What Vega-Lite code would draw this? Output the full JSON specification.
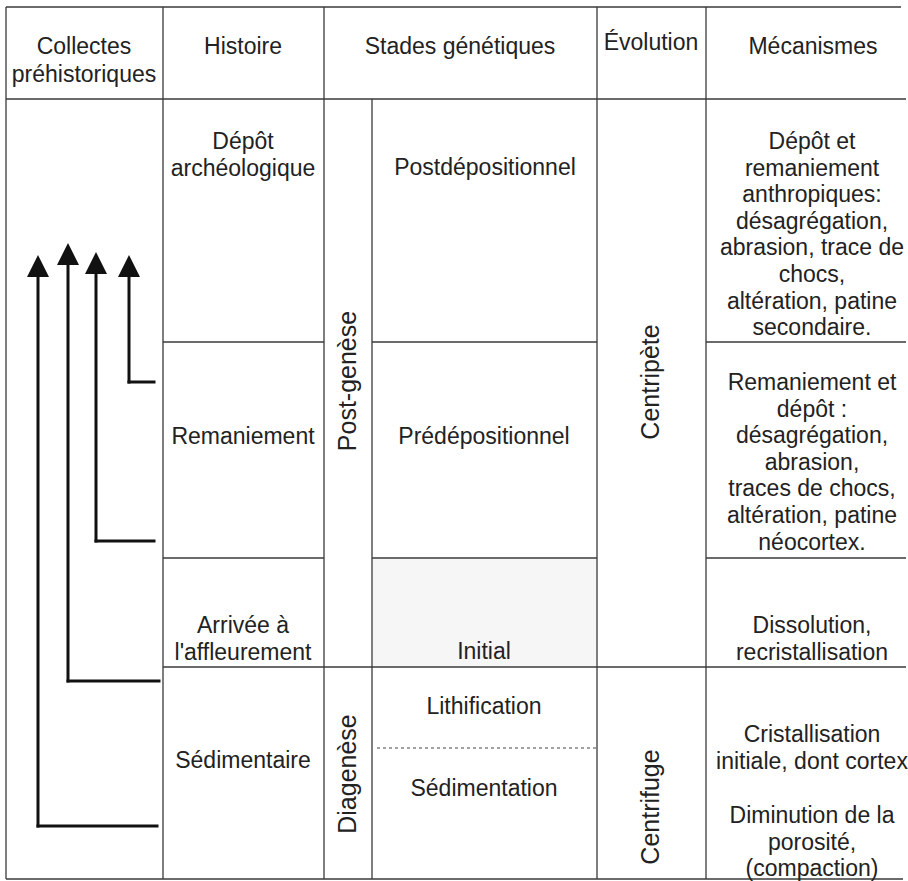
{
  "$schema": "https://vega.github.io/schema/vega-lite/v6.json",
  "width": 908,
  "height": 881,
  "padding": 0,
  "autosize": {"type": "none"},
  "background": "white",
  "config": {"view": {"stroke": null}},
  "datasets": {
    "grid": [
      {"x": 6, "x2": 901, "y": 7, "y2": 7},
      {"x": 6, "x2": 906, "y": 99, "y2": 99},
      {"x": 163, "x2": 324, "y": 342, "y2": 342},
      {"x": 372, "x2": 597, "y": 342, "y2": 342},
      {"x": 706, "x2": 906, "y": 342, "y2": 342},
      {"x": 163, "x2": 324, "y": 558, "y2": 558},
      {"x": 372, "x2": 597, "y": 558, "y2": 558},
      {"x": 706, "x2": 906, "y": 558, "y2": 558},
      {"x": 163, "x2": 906, "y": 667, "y2": 667},
      {"x": 6, "x2": 903, "y": 879, "y2": 879},
      {"x": 6, "x2": 6, "y": 7, "y2": 879},
      {"x": 163, "x2": 163, "y": 7, "y2": 879},
      {"x": 324, "x2": 324, "y": 7, "y2": 879},
      {"x": 372, "x2": 372, "y": 99, "y2": 879},
      {"x": 597, "x2": 597, "y": 7, "y2": 879},
      {"x": 706, "x2": 706, "y": 7, "y2": 879}
    ],
    "dashed": [
      {"x": 377, "x2": 597, "y": 748, "y2": 748}
    ],
    "shade": [
      {"x": 373, "x2": 596, "y": 559, "y2": 666}
    ],
    "shafts": [
      {"x": 38, "x2": 38, "y": 268, "y2": 826},
      {"x": 38, "x2": 157, "y": 826, "y2": 826},
      {"x": 68, "x2": 68, "y": 256, "y2": 681},
      {"x": 68, "x2": 159, "y": 681, "y2": 681},
      {"x": 96, "x2": 96, "y": 265, "y2": 541},
      {"x": 96, "x2": 154, "y": 541, "y2": 541},
      {"x": 129, "x2": 129, "y": 268, "y2": 382},
      {"x": 129, "x2": 154, "y": 382, "y2": 382}
    ],
    "heads": [
      {"x": 38, "y": 266},
      {"x": 68, "y": 254},
      {"x": 96, "y": 263},
      {"x": 129, "y": 266}
    ],
    "header": [
      {"x": 84, "y": 47, "text": "Collectes\npréhistoriques"},
      {"x": 243, "y": 47, "text": "Histoire"},
      {"x": 460, "y": 47, "text": "Stades génétiques"},
      {"x": 651, "y": 43, "text": "Évolution"},
      {"x": 813, "y": 47, "text": "Mécanismes"}
    ],
    "body": [
      {"x": 243, "y": 142, "text": "Dépôt\narchéologique"},
      {"x": 485, "y": 168, "text": "Postdépositionnel"},
      {"x": 812, "y": 142, "text": "Dépôt et\nremaniement\nanthropiques:\ndésagrégation,\nabrasion, trace de\nchocs,\naltération, patine\nsecondaire."},
      {"x": 243, "y": 437, "text": "Remaniement"},
      {"x": 484, "y": 437, "text": "Prédépositionnel"},
      {"x": 812, "y": 383, "text": "Remaniement et\ndépôt :\ndésagrégation,\nabrasion,\ntraces de chocs,\naltération, patine\nnéocortex."},
      {"x": 243, "y": 626, "text": "Arrivée à\nl'affleurement"},
      {"x": 484, "y": 652, "text": "Initial"},
      {"x": 812, "y": 626, "text": "Dissolution,\nrecristallisation"},
      {"x": 243, "y": 761, "text": "Sédimentaire"},
      {"x": 484, "y": 707, "text": "Lithification"},
      {"x": 484, "y": 789, "text": "Sédimentation"},
      {"x": 812, "y": 735, "text": "Cristallisation\ninitiale, dont cortex"},
      {"x": 812, "y": 816, "text": "Diminution de la\nporosité,\n(compaction)"}
    ],
    "vertical": [
      {"x": 348, "y": 381, "text": "Post-genèse"},
      {"x": 348, "y": 774, "text": "Diagenèse"},
      {"x": 651, "y": 382, "text": "Centripète"},
      {"x": 651, "y": 807, "text": "Centrifuge"}
    ]
  },
  "layer": [
    {
      "data": {"name": "shade"},
      "mark": {"type": "rect", "color": "#f6f6f6"},
      "encoding": {
        "x": {"field": "x", "type": "quantitative", "scale": {"domain": [0, 908], "nice": false, "zero": false}, "axis": null},
        "x2": {"field": "x2"},
        "y": {"field": "y", "type": "quantitative", "scale": {"domain": [0, 881], "nice": false, "zero": false, "reverse": true}, "axis": null},
        "y2": {"field": "y2"}
      }
    },
    {
      "data": {"name": "grid"},
      "mark": {"type": "rule", "color": "#3a3a3a", "strokeWidth": 1.3},
      "encoding": {
        "x": {"field": "x", "type": "quantitative", "scale": {"domain": [0, 908], "nice": false, "zero": false}, "axis": null},
        "x2": {"field": "x2"},
        "y": {"field": "y", "type": "quantitative", "scale": {"domain": [0, 881], "nice": false, "zero": false, "reverse": true}, "axis": null},
        "y2": {"field": "y2"}
      }
    },
    {
      "data": {"name": "dashed"},
      "mark": {"type": "rule", "color": "#444444", "strokeWidth": 1, "strokeDash": [3, 3]},
      "encoding": {
        "x": {"field": "x", "type": "quantitative", "axis": null},
        "x2": {"field": "x2"},
        "y": {"field": "y", "type": "quantitative", "axis": null},
        "y2": {"field": "y2"}
      }
    },
    {
      "data": {"name": "shafts"},
      "mark": {"type": "rule", "color": "#111111", "strokeWidth": 3, "strokeCap": "square"},
      "encoding": {
        "x": {"field": "x", "type": "quantitative", "axis": null},
        "x2": {"field": "x2"},
        "y": {"field": "y", "type": "quantitative", "axis": null},
        "y2": {"field": "y2"}
      }
    },
    {
      "data": {"name": "heads"},
      "mark": {"type": "point", "shape": "M0,-1L1,1L-1,1Z", "size": 484, "filled": true, "color": "#111111", "opacity": 1, "strokeWidth": 0},
      "encoding": {
        "x": {"field": "x", "type": "quantitative", "axis": null},
        "y": {"field": "y", "type": "quantitative", "axis": null}
      }
    },
    {
      "data": {"name": "header"},
      "mark": {"type": "text", "font": "Liberation Sans", "fontSize": 23, "color": "#222222", "align": "center", "baseline": "middle", "lineBreak": "\n", "lineHeight": 28},
      "encoding": {
        "x": {"field": "x", "type": "quantitative", "axis": null},
        "y": {"field": "y", "type": "quantitative", "axis": null},
        "text": {"field": "text"}
      }
    },
    {
      "data": {"name": "body"},
      "mark": {"type": "text", "font": "Liberation Sans", "fontSize": 23, "color": "#222222", "align": "center", "baseline": "middle", "lineBreak": "\n", "lineHeight": 26.6},
      "encoding": {
        "x": {"field": "x", "type": "quantitative", "axis": null},
        "y": {"field": "y", "type": "quantitative", "axis": null},
        "text": {"field": "text"}
      }
    },
    {
      "data": {"name": "vertical"},
      "mark": {"type": "text", "font": "Liberation Sans", "fontSize": 25, "color": "#222222", "align": "center", "baseline": "middle", "angle": 270},
      "encoding": {
        "x": {"field": "x", "type": "quantitative", "axis": null},
        "y": {"field": "y", "type": "quantitative", "axis": null},
        "text": {"field": "text"}
      }
    }
  ]
}
